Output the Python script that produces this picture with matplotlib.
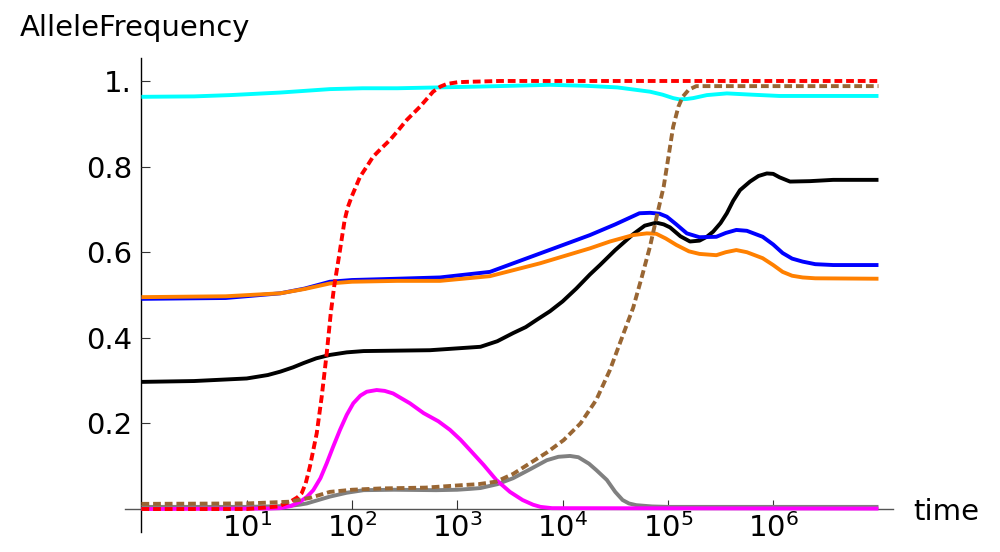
import numpy as np
import matplotlib
matplotlib.use("Agg")
import matplotlib.pyplot as plt
from matplotlib.ticker import FixedLocator, NullLocator

plt.rcParams['font.family'] = ['DejaVu Sans']
plt.rcParams['mathtext.fontset'] = 'dejavusans'

# ---- data: log10(time) exponents and allele frequencies ----
cyan_logt = [0, 0.5, 0.84, 1.32, 1.79, 2.1, 2.43, 3.22, 3.88, 4.2, 4.52, 4.83, 4.95, 5.05, 5.11, 5.18, 5.24, 5.37, 5.56, 5.8, 6.06, 7.0]
cyan_val = [0.963, 0.964, 0.967, 0.973, 0.981, 0.983, 0.983, 0.987, 0.991, 0.989, 0.985, 0.975, 0.968, 0.960, 0.957, 0.958, 0.960, 0.967, 0.971, 0.968, 0.965, 0.965]

red_logt = [0, 1.0, 1.3, 1.42, 1.48, 1.522, 1.56, 1.60, 1.665, 1.712, 1.76, 1.798, 1.83, 1.86, 1.886, 1.93, 1.96, 1.997,
            2.04, 2.076, 2.14, 2.20, 2.28, 2.36, 2.44, 2.52, 2.646, 2.77, 2.84, 2.90, 3.0, 3.09, 3.4, 7.0]
red_val = [0.0, 0.0, 0.006, 0.018, 0.027, 0.037, 0.060, 0.099, 0.177, 0.262, 0.364, 0.457, 0.519, 0.565, 0.605, 0.675, 0.705, 0.730,
           0.755, 0.776, 0.800, 0.823, 0.843, 0.862, 0.885, 0.909, 0.940, 0.975, 0.987, 0.993, 0.997, 0.998, 1.0, 1.0]

magenta_logt = [0, 1.2, 1.316, 1.42, 1.506, 1.57, 1.632, 1.70, 1.76, 1.82, 1.886, 1.95, 2.012, 2.08, 2.14, 2.234, 2.31, 2.39,
                2.55, 2.68, 2.82, 2.93, 3.03, 3.12, 3.25, 3.37, 3.5, 3.62, 3.72, 3.79, 3.9, 7.0]
magenta_val = [0.0, 0.001, 0.002, 0.007, 0.017, 0.028, 0.044, 0.072, 0.107, 0.145, 0.185, 0.220, 0.247, 0.265, 0.274, 0.278, 0.276, 0.270,
               0.247, 0.224, 0.205, 0.185, 0.162, 0.138, 0.103, 0.068, 0.040, 0.021, 0.010, 0.005, 0.002, 0.001]

gray_logt = [0, 1.0, 1.4, 1.5, 1.57, 1.68, 1.79, 1.95, 2.11, 2.4, 2.8, 3.0, 3.12, 3.22, 3.38, 3.53, 3.7, 3.85, 3.96, 4.07,
             4.15, 4.25, 4.32, 4.42, 4.5, 4.57, 4.63, 4.70, 4.85, 5.0, 7.0]
gray_val = [0.005, 0.005, 0.007, 0.010, 0.013, 0.021, 0.029, 0.038, 0.044, 0.045, 0.044, 0.045, 0.047, 0.049, 0.058, 0.072, 0.094, 0.114, 0.122, 0.124,
            0.121, 0.106, 0.091, 0.068, 0.040, 0.021, 0.013, 0.009, 0.006, 0.005, 0.005]

brown_logt = [0, 1.0, 1.4, 1.6, 1.79, 2.0, 2.266, 2.7, 3.06, 3.2, 3.37, 3.53, 3.69, 3.85, 4.01, 4.17, 4.32, 4.45, 4.58, 4.67,
              4.75, 4.83, 4.90, 4.96, 5.01, 5.05, 5.10, 5.14, 5.20, 5.27, 5.5, 7.0]
brown_val = [0.012, 0.013, 0.017, 0.026, 0.040, 0.045, 0.048, 0.050, 0.056, 0.058, 0.064, 0.082, 0.107, 0.132, 0.161, 0.200, 0.255, 0.325, 0.411, 0.470,
             0.540, 0.613, 0.690, 0.753, 0.830, 0.893, 0.940, 0.963, 0.980, 0.988, 0.988, 0.988]

blue_logt = [0, 0.8, 1.32, 1.55, 1.79, 2.0, 2.43, 2.836, 3.31, 3.785, 4.26, 4.5, 4.73, 4.83, 4.92, 4.99, 5.08, 5.18, 5.30, 5.46,
             5.55, 5.65, 5.75, 5.90, 6.0, 6.09, 6.18, 6.28, 6.4, 6.57, 7.0]
blue_val = [0.491, 0.493, 0.504, 0.515, 0.531, 0.535, 0.538, 0.541, 0.554, 0.597, 0.640, 0.665, 0.691, 0.692, 0.690, 0.683, 0.665, 0.644, 0.635, 0.636,
            0.645, 0.652, 0.650, 0.636, 0.618, 0.598, 0.585, 0.578, 0.572, 0.570, 0.570]

orange_logt = [0, 0.8, 1.32, 1.55, 1.79, 2.0, 2.43, 2.836, 3.31, 3.785, 4.26, 4.45, 4.67, 4.8, 4.89, 4.98, 5.08, 5.20, 5.30, 5.46,
               5.55, 5.65, 5.75, 5.90, 6.0, 6.09, 6.18, 6.28, 6.4, 7.0]
orange_val = [0.495, 0.497, 0.504, 0.514, 0.527, 0.531, 0.533, 0.533, 0.544, 0.574, 0.609, 0.625, 0.640, 0.644, 0.643, 0.632, 0.617, 0.602, 0.596, 0.593,
              0.600, 0.605, 0.600, 0.586, 0.570, 0.554, 0.545, 0.541, 0.539, 0.538]

black_logt = [0, 0.5, 1.0, 1.2, 1.32, 1.44, 1.54, 1.66, 1.79, 1.95, 2.11, 2.74, 3.22, 3.38, 3.53, 3.65, 3.754, 3.88, 4.0, 4.13,
              4.26, 4.355, 4.5, 4.67, 4.78, 4.89, 4.96, 5.02, 5.12, 5.21, 5.30, 5.37, 5.43, 5.50, 5.56, 5.62, 5.685, 5.78,
              5.86, 5.94, 6.0, 6.06, 6.16, 6.35, 6.57, 7.0]
black_val = [0.297, 0.299, 0.305, 0.313, 0.321, 0.331, 0.341, 0.352, 0.360, 0.366, 0.369, 0.371, 0.379, 0.392, 0.411, 0.425, 0.442, 0.462, 0.485, 0.515,
             0.548, 0.570, 0.605, 0.642, 0.662, 0.669, 0.665, 0.658, 0.637, 0.625, 0.627, 0.636, 0.648, 0.668, 0.691, 0.720, 0.745, 0.765,
             0.778, 0.784, 0.783, 0.775, 0.765, 0.766, 0.769, 0.769]

xtick_exps = [1, 2, 3, 4, 5, 6]
ytick_vals = [0.2, 0.4, 0.6, 0.8, 1.0]
ytick_labels = ['0.2', '0.4', '0.6', '0.8', '1.']

# ---- figure ----
fig = plt.figure(figsize=(10, 5.52), dpi=100)
ax = fig.add_axes([0.125, 0.03623, 0.768, 0.8587])
ax.set_xscale('log')
ax.set_xlim(10 ** -0.156, 10 ** 7.138)
ax.set_ylim(-0.0537, 1.0537)

lw = 2.8
series = [
    (black_logt, black_val, 'black', '-'),
    (blue_logt, blue_val, '#0000FF', '-'),
    (orange_logt, orange_val, '#FF8000', '-'),
    (cyan_logt, cyan_val, '#00FFFF', '-'),
    (gray_logt, gray_val, '#808080', '-'),
    (magenta_logt, magenta_val, '#FF00FF', '-'),
    (red_logt, red_val, '#FF0000', '--'),
    (brown_logt, brown_val, '#996633', '--'),
]
for lt, v, c, ls in series:
    t = 10.0 ** np.asarray(lt)
    line, = ax.plot(t, v, color=c, lw=lw, solid_joinstyle='round', solid_capstyle='butt', clip_on=False)
    if ls == '--':
        line.set_dashes((2.0, 1.0))
        line.set_dash_capstyle('butt')
        line.set_dash_joinstyle('round')

for s in ['top', 'right']:
    ax.spines[s].set_visible(False)
ax.spines['left'].set_position(('data', 1))
ax.spines['bottom'].set_position(('data', 0))
ax.spines['left'].set_color('black')
ax.spines['bottom'].set_color('#555555')
ax.spines['left'].set_linewidth(1.0)
ax.spines['bottom'].set_linewidth(1.0)
ax.spines['left'].set_zorder(0.5)
ax.spines['bottom'].set_zorder(0.5)

ax.xaxis.set_major_locator(FixedLocator([10.0 ** e for e in xtick_exps]))
ax.xaxis.set_minor_locator(NullLocator())
ax.set_xticklabels(['$10^{%d}$' % e for e in xtick_exps])
ax.set_yticks(ytick_vals)
ax.set_yticklabels(ytick_labels)
ax.yaxis.set_minor_locator(NullLocator())
ax.tick_params(axis='both', direction='in', length=6.2, width=0.8, colors='#333333', labelcolor='black', labelsize=21)
ax.tick_params(axis='y', pad=6.8)
ax.tick_params(axis='x', pad=3)

fig.text(20 / 1000, 1 - 36 / 552, 'AlleleFrequency', fontsize=21, va='baseline', ha='left')
fig.text(913 / 1000, 1 - 520 / 552, 'time', fontsize=21, va='baseline', ha='left')

fig.savefig('out.png', dpi=100)
